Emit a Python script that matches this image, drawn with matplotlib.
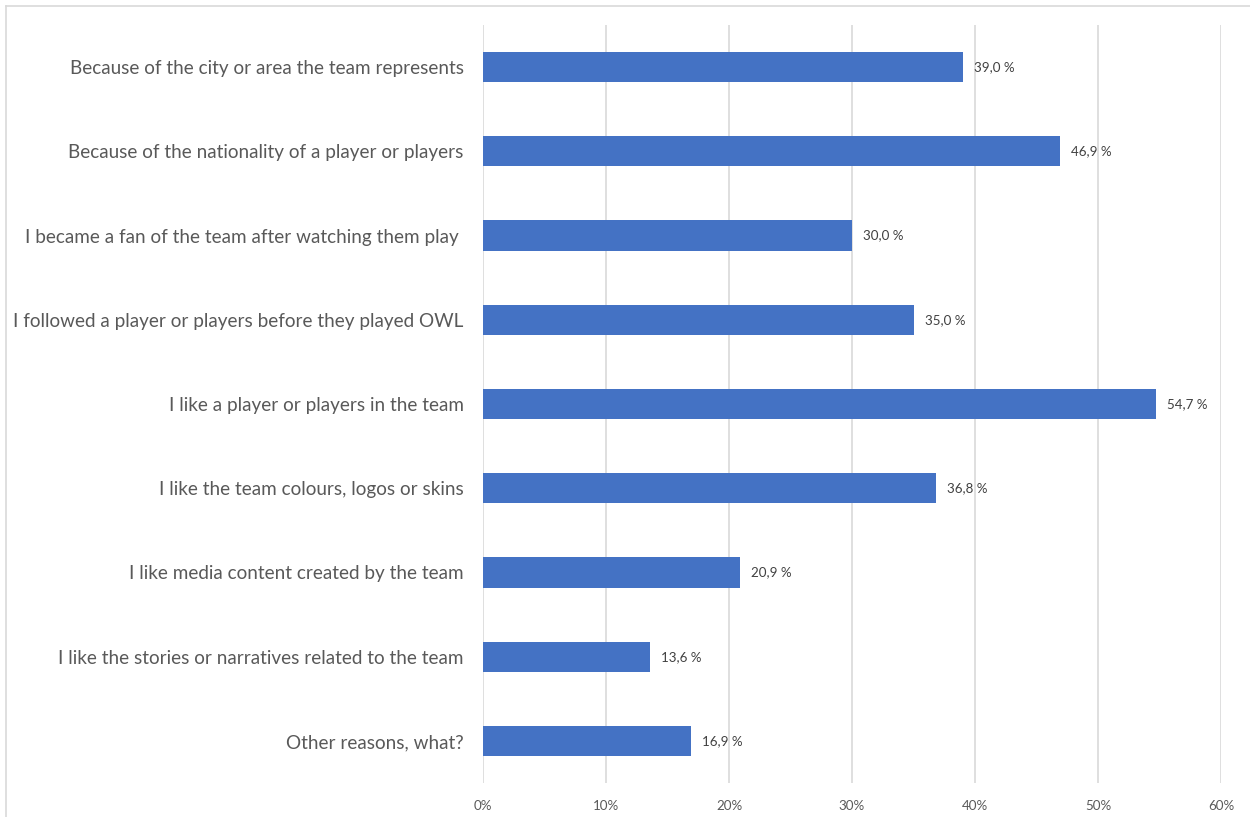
import matplotlib
matplotlib.use("Agg")
import matplotlib.pyplot as plt
from matplotlib.lines import Line2D

categories = [
    "Because of the city or area the team represents",
    "Because of the nationality of a player or players",
    "I became a fan of the team after watching them play ",
    "I followed a player or players before they played OWL",
    "I like a player or players in the team",
    "I like the team colours, logos or skins",
    "I like media content created by the team",
    "I like the stories or narratives related to the team",
    "Other reasons, what?",
]
values = [39.0, 46.9, 30.0, 35.0, 54.7, 36.8, 20.9, 13.6, 16.9]
xticks = [0, 10, 20, 30, 40, 50, 60]
xtick_labels = ["0%", "10%", "20%", "30%", "40%", "50%", "60%"]

W, H = 1250, 817
fig = plt.figure(figsize=(W / 100, H / 100), dpi=100)
fig.patch.set_facecolor("white")

# axes position in pixels
x0, x1 = 483, 1221
y_top, y_bot = 25, 783
ax = fig.add_axes([x0 / W, 1 - y_bot / H, (x1 - x0) / W, (y_bot - y_top) / H])

ypos = list(range(len(categories)))
ax.barh(ypos, values, height=0.36, color="#4472C4", zorder=3)
ax.set_ylim(len(categories) - 0.5, -0.5)
ax.set_xlim(0, 60)

for y, v in zip(ypos, values):
    ax.text(v + 0.9, y, f"{v:.1f}".replace(".", ",") + " %", va="center", ha="left",
            fontsize=9.6, color="#404040", family="Lato")

ax.set_yticks(ypos)
ax.set_yticklabels(categories, fontsize=13.6, color="#595959", family="Lato")
ax.set_xticks(xticks)
ax.set_xticklabels(xtick_labels, fontsize=9.6, color="#595959", family="Lato")
ax.tick_params(axis="both", length=0)
ax.tick_params(axis="y", pad=14)
ax.tick_params(axis="x", pad=12)
ax.grid(axis="x", color="#d9d9d9", linewidth=1.2, zorder=0)
for s in ax.spines.values():
    s.set_visible(False)

# outer chart border (clipped at right/bottom)
fig.add_artist(Line2D([6 / W, 1], [1 - 6 / H, 1 - 6 / H], color="#d9d9d9", lw=1.2))
fig.add_artist(Line2D([6 / W, 6 / W], [0, 1 - 6 / H], color="#d9d9d9", lw=1.2))

fig.savefig("out.png", dpi=100, facecolor="white")
